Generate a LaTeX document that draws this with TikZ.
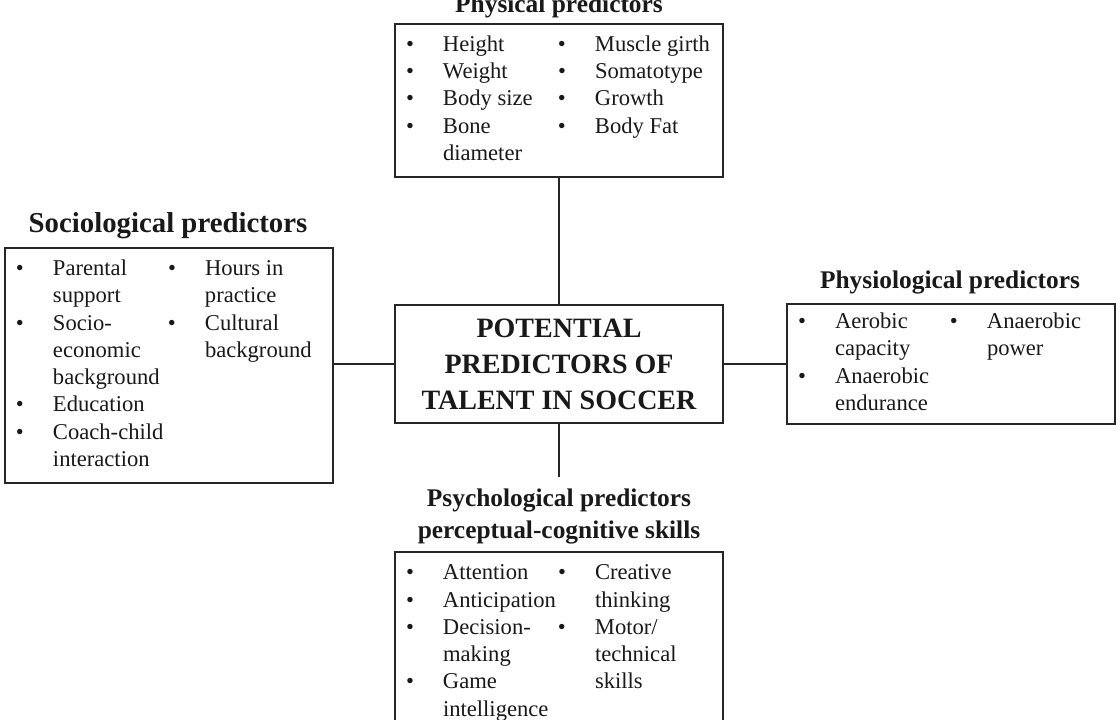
\documentclass[tikz,border=0pt]{standalone}
\usepackage{fontspec}
\setmainfont{Liberation Serif}
\usepackage{array}
\usetikzlibrary{positioning}

\newcommand{\bul}{\textbullet}
\newcommand{\predlist}[1]{\begin{tabular}{@{}p{37pt}@{}p{115pt}@{}p{37pt}@{}p{117pt}@{}}#1\end{tabular}}

\tikzset{
  predbox/.style={draw=black!85, line width=2pt, text=black!90, minimum width=328pt, inner sep=0pt, font=\fontsize{22.6}{27.3}\selectfont},
  corebox/.style={predbox, align=center, font=\bfseries\fontsize{28}{36}\selectfont},
  predtitle/.style={anchor=base, inner sep=0pt, align=center, text=black!90, font=\bfseries\fontsize{25.4}{32}\selectfont},
  link/.style={draw=black!85, line width=2pt}
}

\begin{document}
\begin{tikzpicture}[x=1pt, y=1pt]
    % Page frame
    \path[use as bounding box, fill=white] (0,0) rectangle (1120,720);
    \clip (0,0) rectangle (1120,720);

    % Centre box
    \node[corebox, minimum height=118pt] (core) at (559,356) {POTENTIAL\\PREDICTORS OF\\TALENT IN SOCCER};

    % Physical
    \node[predbox, minimum height=153pt] (phys) at (559,619.5) {\predlist{
        \bul & Height & \bul & Muscle girth \\
        \bul & Weight & \bul & Somatotype \\
        \bul & Body size & \bul & Growth \\
        \bul & Bone & \bul & Body Fat \\
             & diameter & & \\}};
    \node[predtitle] (physT) at (559,707) {Physical predictors};

    % Sociological
    \node[predbox, minimum height=235pt] (socio) at (169,354.5) {\predlist{
        \bul & Parental & \bul & Hours in \\
             & support & & practice \\
        \bul & Socio- & \bul & Cultural \\
             & economic & & background \\
             & background & & \\
        \bul & Education & & \\
        \bul & Coach-child & & \\
             & interaction & & \\}};
    \node[predtitle, font=\bfseries\fontsize{28.8}{34}\selectfont] (socioT) at (168,487) {Sociological predictors};

    % Physiological
    \node[predbox, minimum height=120pt] (physio) at (951,356) {\predlist{
        \bul & Aerobic & \bul & Anaerobic \\
             & capacity & & power \\
        \bul & Anaerobic & & \\
             & endurance & & \\}};
    \node[predtitle] (physioT) at (950,431) {Physiological predictors};

    % Psychological
    \node[predbox, minimum height=181pt] (psych) at (559,77.5) {\predlist{
        \bul & Attention & \bul & Creative \\
        \bul & Anticipation & & thinking \\
        \bul & Decision- & \bul & Motor/ \\
             & making & & technical \\
        \bul & Game & & skills \\
             & intelligence & & \\}};
    \node[predtitle, anchor=south] (psychT) at (559,176) {Psychological predictors\\perceptual-cognitive skills};
    \coordinate (psychtop) at (559,243);

    % Links
    \draw[link] (core.north) -- (phys.south);
    \draw[link] (core.west) -- (core.west -| socio.east);
    \draw[link] (core.east) -- (core.east -| physio.west);
    \draw[link] (core.south) -- (psychtop);
\end{tikzpicture}
\end{document}
